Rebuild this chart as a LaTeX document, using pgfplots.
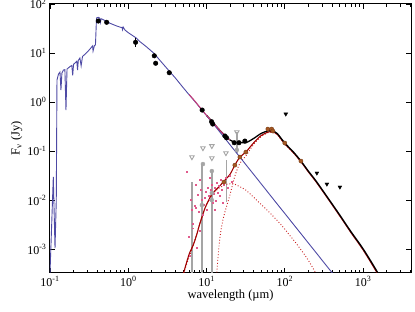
\documentclass[border=0pt]{standalone}
\usepackage{fontspec}
\setmainfont{Liberation Serif}
\usepackage{pgfplots}
\pgfplotsset{compat=1.18}
\definecolor{starblue}{RGB}{78,74,165}
\definecolor{dred}{RGB}{160,0,0}
\definecolor{dotred}{RGB}{200,30,30}
\definecolor{mag}{RGB}{200,60,120}
\definecolor{pinkpt}{RGB}{225,90,140}
\definecolor{gpt}{RGB}{165,165,165}
\definecolor{brn}{RGB}{165,88,35}
\definecolor{brnd}{RGB}{110,55,20}
\begin{document}
\begin{tikzpicture}
\path[use as bounding box] (-50pt,-39pt) rectangle (365pt,273pt);
\begin{axis}[
  xmode=log, ymode=log,
  scale only axis, width=361pt, height=269pt,
  xmin=0.1, xmax=4100, ymin=3.3e-4, ymax=100,
  xtick={0.1,1,10,100,1000},
  xticklabels={10\textsuperscript{-1},10\textsuperscript{0},10\textsuperscript{1},10\textsuperscript{2},10\textsuperscript{3}},
  minor xtick={0.2,0.3,0.4,0.5,0.6,0.7,0.8,0.9,2,3,4,5,6,7,8,9,20,30,40,50,60,70,80,90,200,300,400,500,600,700,800,900,2000,3000,4000},
  ytick={0.001,0.01,0.1,1,10,100},
  yticklabels={10\textsuperscript{-3},10\textsuperscript{-2},10\textsuperscript{-1},10\textsuperscript{0},10\textsuperscript{1},10\textsuperscript{2}},
  yminorticks=false,
  tick align=inside,
  major tick length=5pt, minor tick length=2.8pt,
  every tick/.style={black, line width=0.8pt},
  axis line style={line width=1pt},
  tick label style={font=\fontsize{12}{14}\selectfont},
  label style={font=\fontsize{12.5}{14}\selectfont},
  xlabel={wavelength (µm)},
  ylabel={F\textsubscript{ν} (Jy)},
  xlabel style={yshift=3pt},
  ylabel style={yshift=-2pt},
]
% gray vertical bars (upper-limit / error lines)
\addplot[gpt, line width=1.4pt] coordinates {(6.51,0.0235) (6.51,1e-4)};
\addplot[gpt, line width=1.4pt] coordinates {(8.73,0.052) (8.73,1e-4)};
\addplot[gpt, line width=1.4pt] coordinates {(11.5,0.038) (11.5,1e-4)};
\addplot[gpt, line width=1.4pt] coordinates {(11.8,0.038) (11.8,1e-4)};
\addplot[gpt, line width=1.4pt] coordinates {(18.0,0.066) (18.0,0.0092)};
\addplot[gpt, line width=1.4pt] coordinates {(24.4,0.246) (24.4,0.09)};
% pink excess spectrum points
\addplot[only marks, mark=square*, mark size=0.45pt, pinkpt] coordinates {
(5.6,0.0377) (5.96,0.00178) (6.14,0.00073) (6.32,0.0101) (6.51,0.0063)
(6.70,0.0027) (6.70,0.0034) (7.11,0.0076) (7.32,0.00695) (7.54,0.00106)
(7.76,0.0128) (8.0,0.00575) (8.24,0.00236) (8.48,0.0162) (8.73,0.0101)
(9.0,0.0050) (9.26,0.0080) (9.54,0.0111) (9.82,0.0147) (10.1,0.0063)
(10.4,0.0178) (10.7,0.0122) (11.05,0.0101) (11.4,0.0162) (11.7,0.0205)
(12.1,0.0088) (12.4,0.0134) (12.8,0.0178) (13.2,0.0097) (13.6,0.0225)
(14.0,0.0141) (14.4,0.0195) (14.8,0.0122) (15.3,0.0259) (15.7,0.0162)
(16.2,0.0088) (16.7,0.0205) (17.7,0.0284) (18.8,0.0178) (19.9,0.0312)
(21.1,0.0235) (8.24,0.0259) (7.32,0.0205) (11.05,0.0284) (12.8,0.0063)
};
% warm dust (dotted)
\addplot[dotred, dotted, line width=0.9pt, smooth] coordinates {
(5.1,3.3e-4) (6.76,1.22e-3) (8.24,3.4e-3) (9.55,6.9e-3) (10.5,0.0095) (11.6,0.0125)
(13,0.0155) (14.5,0.0178) (16.7,0.0200) (18.4,0.0213) (21,0.0218) (23,0.0212)
(26.7,0.0189) (32,0.0160) (43.6,0.0101) (60,0.0062) (86.5,3.39e-3) (120,1.8e-3)
(156,1.05e-3) (200,6e-4) (249,3.3e-4) (290,2.3e-4)};
% cold dust (dotted)
\addplot[dotred, dotted, line width=0.9pt, smooth] coordinates {
(13.0,1.5e-4) (13.5,3.3e-4) (14.8,1.7e-3) (16.5,4.5e-3) (19.9,0.0128) (23,0.031)
(26.7,0.057) (31.8,0.080) (40,0.138) (50,0.199) (60.8,0.238) (65,0.243) (70,0.241)
(80,0.218) (100,0.139) (130,0.091) (161,0.060)};
% disk total (solid dark red)
\addplot[dred, line width=1.1pt, smooth] coordinates {
(5.0,2.5e-4) (5.1,3.3e-4) (6,8e-4) (6.76,1.22e-3) (7.5,2.0e-3) (8.24,3.4e-3) (9.55,6.9e-3)
(10.5,0.0096) (11.6,0.0130) (13,0.0160) (14.5,0.0190) (16.7,0.0245) (20,0.034)
(23,0.052) (26.7,0.076) (31.8,0.096) (40,0.148) (50,0.209) (60.8,0.245) (65,0.250)
(70,0.247) (80,0.222) (100,0.142) (130,0.092) (161,0.061) (200,0.038) (250,0.024)
(350,0.0112) (500,4.9e-3) (700,2.2e-3) (1000,9.8e-4) (1500,3.4e-4) (1800,2.0e-4)};
% total model (black)
\addplot[black, line width=1.3pt, smooth] coordinates {
(10,0.539) (11.6,0.414) (13,0.336) (14.5,0.276) (16.7,0.218) (20,0.169) (23,0.154)
(26.7,0.152) (31.8,0.149) (40,0.182) (50,0.231) (60.8,0.260) (65,0.263) (70,0.258)
(80,0.230) (100,0.147) (130,0.095) (161,0.063) (200,0.0394) (250,0.0249)
(350,0.0116) (500,0.0051) (700,0.0023) (1000,0.00103) (1500,0.00036) (1800,0.0002)};
% stellar photosphere (blue)
\addplot[starblue, line width=0.9pt] coordinates {
(0.0999,1e-4) (0.1,3.3e-4) (0.1045,2.47e-3) (0.1102,0.030) (0.1159,1.06e-3) (0.1203,0.0101)
(0.1228,2.83) (0.1284,3.74) (0.1342,4.11) (0.138,1.77) (0.142,3.93) (0.1486,4.52)
(0.155,4.6) (0.160,0.69) (0.165,4.73) (0.18,5.3) (0.19,5.6) (0.195,3.5) (0.2,5.9)
(0.208,6.27) (0.22,6.8) (0.225,4.5) (0.23,7.1) (0.241,7.93) (0.25,5.5) (0.26,8.5)
(0.30,10.5) (0.33,12.5) (0.35,14.0) (0.355,11.0) (0.37,14.3) (0.381,14.6)
(0.393,51.9) (0.414,53.6) (0.43,52) (0.44,42) (0.45,50) (0.461,49.4) (0.52,45)
(0.584,40.5) (0.7,36) (0.8,33.5) (0.831,33.2) (0.845,30) (0.86,34) (0.908,29.5)
(1.0,26) (1.28,20) (1.41,17.1) (1.7,13.5) (2.13,9.9) (2.6,6.8) (3.34,4.3) (4,3.1)
(5,2.0) (6.14,1.35) (7,1.06) (8,0.82) (10,0.53) (12,0.375) (15,0.24) (20,0.135)
(30,0.06) (50,0.0216) (80,8.4e-3) (100,5.4e-3) (200,1.35e-3) (300,6.0e-4)
(405,3.3e-4) (500,2.16e-4)};
% IRS spectrum (magenta)
\addplot[mag, line width=1.0pt, smooth] coordinates {
(6.0,1.43) (7,1.08) (8,0.83) (9,0.66) (10,0.539) (11.6,0.414) (13,0.336)
(14.5,0.276) (16.7,0.218) (20,0.169)};
% gray upper limits
\addplot[only marks, mark=triangle, mark size=2.6pt, mark options={rotate=180, gpt, line width=0.9pt}] coordinates {
(6.51,0.076) (9.0,0.116) (11.7,0.128) (11.7,0.0726) (17.7,0.0918) (24.4,0.246)};
% gray points
\addplot[only marks, mark=*, mark size=2pt, gpt] coordinates {
(9.0,0.0548) (11.7,0.0394) (24.4,0.147) (24.4,0.106) (8.73,0.008) (11.7,0.0141) (11.7,0.0101)};
% black photometry
\addplot[only marks, mark=*, mark size=2.3pt, black] coordinates {
(0.414,45) (0.53,42.4) (2.15,8.8) (2.24,6.2) (3.34,3.98) (8.8,0.69) (11.6,0.40)
(12.0,0.358) (17.2,0.204) (18.0,0.188) (22.6,0.149) (26.0,0.149) (30.9,0.161)};
\addplot[only marks, mark=*, mark size=2.3pt, black,
  error bars/.cd, y dir=both, y explicit, error bar style={line width=1pt, black}, error mark=none]
  coordinates {(1.24,16.6) +- (0,3.6)};
% brown (disk) photometry
\addplot[only marks, mark=*, mark size=2.1pt, mark options={fill=brn, draw=brnd, line width=0.3pt}] coordinates {
(16.7,0.0235) (23,0.052) (26.7,0.076) (31.8,0.096) (60.8,0.283) (68,0.283) (70.5,0.258)
(100,0.147) (161,0.063)};
% black upper limits
\addplot[only marks, mark=triangle*, mark size=2.2pt, mark options={rotate=180}, black] coordinates {
(103,0.573) (257,0.0359) (345,0.0214) (506,0.0186)};
\end{axis}
\end{tikzpicture}
\end{document}
